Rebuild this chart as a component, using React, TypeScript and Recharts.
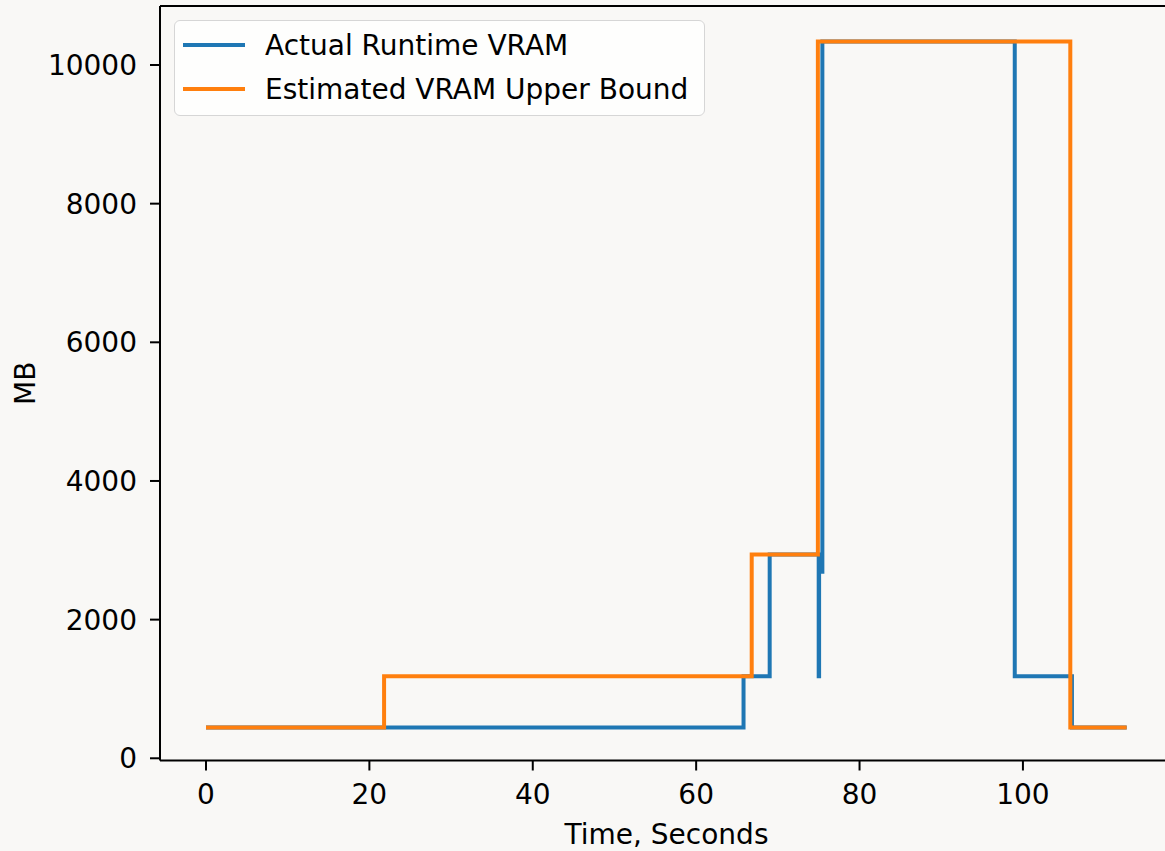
import React from 'react';
import { LineChart, Line, XAxis, YAxis, Legend, ReferenceLine } from 'recharts';

// step points (time in seconds, VRAM in MB)
const actualTime = [0, 65.8, 69.0, 75.0, 75.05, 75.45, 99.0, 106.0, 112.7];
const actualMB = [445, 1185, 2940, 1185, 2690, 10340, 1185, 445, 445];

const estimatedTime = [0, 21.8, 66.8, 74.9, 105.8, 112.7];
const estimatedMB = [445, 1185, 2940, 10340, 445, 445];

const xTicks = [0, 20, 40, 60, 80, 100];
const yTicks = [0, 2000, 4000, 6000, 8000, 10000];

const X_DOMAIN: [number, number] = [-5.63, 118.37];
const Y_DOMAIN: [number, number] = [-32, 10851];

const FONT = '"DejaVu Sans", sans-serif';
const FONT_SIZE = 28;

const toPoints = (ts: number[], vs: number[]) => ts.map((t, i) => ({ t, mb: vs[i] }));

const actualData = toPoints(actualTime, actualMB);
const estimatedData = toPoints(estimatedTime, estimatedMB);

function VramLegend({ payload }: any) {
  return (
    <div
      style={{
        width: 531,
        height: 96,
        boxSizing: 'border-box',
        background: 'rgba(255,255,255,0.8)',
        border: '1.5px solid #d6d6d6',
        borderRadius: 6,
        paddingTop: 2,
        fontFamily: FONT,
        fontSize: FONT_SIZE,
        color: '#000',
      }}
    >
      {(payload || []).map((p: any) => (
        <div key={p.value} style={{ display: 'flex', alignItems: 'center', height: 44 }}>
          <span style={{ display: 'inline-block', width: 62, height: 4, background: p.color, marginLeft: 8, marginRight: 20 }} />
          <span style={{ whiteSpace: 'nowrap' }}>{p.value}</span>
        </div>
      ))}
    </div>
  );
}

const MbLabel = (props: any) => {
  const vb = props.viewBox || {};
  const cx = vb.x + 15;
  const cy = vb.y + vb.height / 2;
  return (
    <text
      x={cx}
      y={cy}
      transform={`rotate(-90, ${cx}, ${cy})`}
      textAnchor="middle"
      dominantBaseline="central"
      fontFamily={FONT}
      fontSize={FONT_SIZE}
      fill="#000"
    >
      MB
    </text>
  );
};

export default function App() {
  const tickStyle = { fontSize: FONT_SIZE, fontFamily: FONT, fill: '#000' };
  const lineStyle = { stroke: '#000', strokeWidth: 2 };

  return (
    <div
      style={{
        position: 'absolute',
        left: 0,
        top: 0,
        width: 1165,
        height: 851,
        overflow: 'hidden',
        background: '#f9f8f6',
      }}
    >
      <LineChart width={1183} height={851} margin={{ top: 6, right: 10, left: 10, bottom: 0.5 }}>
        <XAxis
          dataKey="t"
          type="number"
          domain={X_DOMAIN}
          ticks={xTicks}
          allowDataOverflow
          height={90}
          tick={tickStyle}
          tickSize={10}
          tickMargin={14}
          tickLine={lineStyle}
          axisLine={lineStyle}
          label={{ value: 'Time, Seconds', position: 'insideBottom', offset: 7, fontSize: FONT_SIZE, fontFamily: FONT, fill: '#000' }}
        />
        <YAxis
          type="number"
          domain={Y_DOMAIN}
          ticks={yTicks}
          allowDataOverflow
          width={150}
          tick={tickStyle}
          tickSize={10}
          tickMargin={13}
          tickLine={lineStyle}
          axisLine={lineStyle}
          label={<MbLabel />}
        />
        <ReferenceLine y={Y_DOMAIN[1]} stroke="#000" strokeWidth={2} />
        <ReferenceLine x={X_DOMAIN[1]} stroke="#000" strokeWidth={2} />
        <Legend
          layout="vertical"
          align="center"
          verticalAlign="middle"
          wrapperStyle={{ left: 174, top: 20, width: 531 }}
          content={<VramLegend />}
        />
        <Line
          data={actualData}
          dataKey="mb"
          name="Actual Runtime VRAM"
          type="stepAfter"
          stroke="#1f77b4"
          strokeWidth={4}
          dot={false}
          activeDot={false}
          isAnimationActive={false}
        />
        <Line
          data={estimatedData}
          dataKey="mb"
          name="Estimated VRAM Upper Bound"
          type="stepAfter"
          stroke="#ff7f0e"
          strokeWidth={4}
          dot={false}
          activeDot={false}
          isAnimationActive={false}
        />
      </LineChart>
    </div>
  );
}
